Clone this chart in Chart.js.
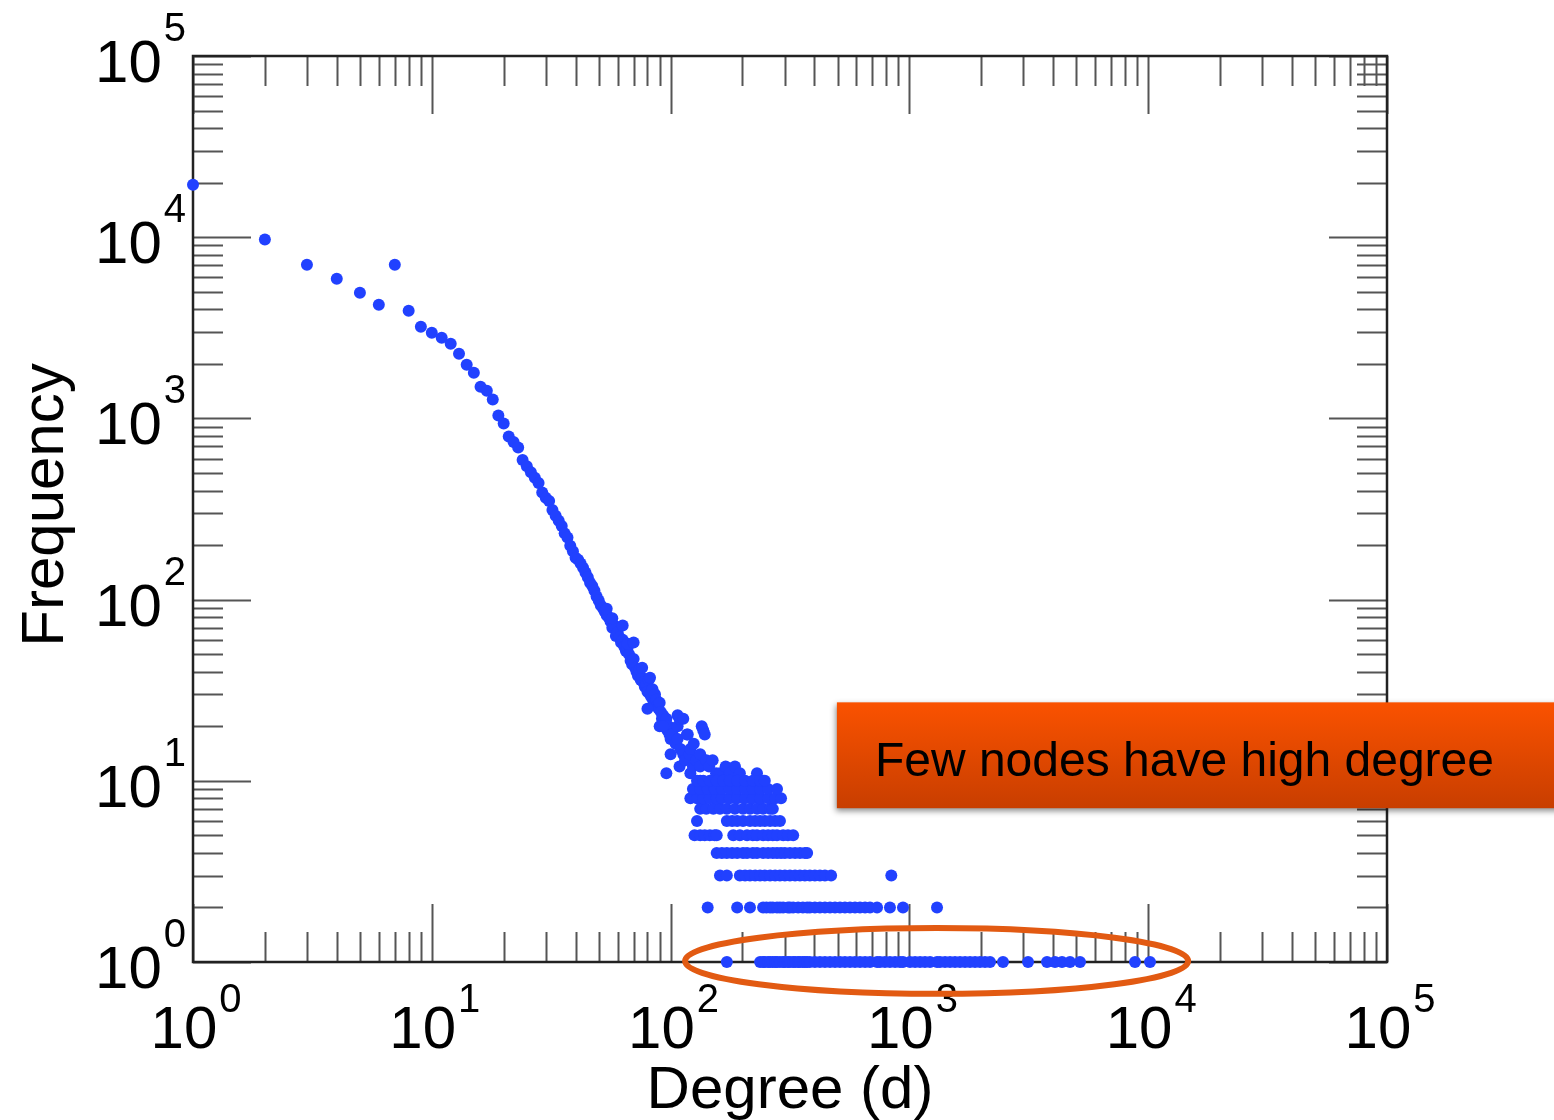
<!DOCTYPE html>
<html>
<head>
<meta charset="utf-8">
<script src="https://cdn.jsdelivr.net/npm/chart.js@4.4.1/dist/chart.umd.min.js"></script>
<style>
  body { margin: 0; background: #fff; }
  canvas { display: block; }
</style>
</head>
<body>
<canvas id="degreeChart" width="1554" height="1120"></canvas>
<script>
// main body of the distribution (degree -> number of nodes)
const mainDegree = [1, 2, 3, 4, 5, 6, 7, 8, 9, 10, 11, 12, 13, 14, 15, 16, 17, 18, 19, 20,
  21, 22, 23, 24, 25, 26, 27, 28, 29, 30, 31, 32, 33, 34, 35, 36, 37, 38, 39, 40,
  41, 42, 43, 44, 45, 46, 47, 48, 49, 50, 51, 52, 53, 54, 55, 56, 57, 58, 59, 60,
  61, 62, 63, 64, 65, 66, 67, 68, 69, 70, 71, 72, 73, 74, 75, 76, 77, 78, 79, 80,
  81, 82, 83, 84, 85, 86, 87, 88, 89, 90, 91, 92, 93, 94, 95, 96, 97, 98, 99, 100];
const mainCount = [19500, 9700, 7040, 5900, 4935, 4240, 7040, 3930, 3205, 2970, 2790, 2583, 2276, 1980, 1788, 1497, 1423, 1270, 1036, 936,
  794, 740, 690, 590, 545, 505, 470, 440, 390, 365, 350, 312, 290, 272, 255, 232, 220, 198, 185, 170,
  166, 158, 150, 141, 133, 124, 119, 112, 104, 99, 93, 90, 86, 82, 80, 76, 70, 72, 63, 66,
  62, 58, 60, 55, 52, 54, 50, 46, 44, 47, 42, 40, 38, 41, 36, 37, 35, 33, 34, 31,
  36, 30, 29, 32, 27, 30, 28, 26, 25, 27, 24, 22, 23, 21, 20, 22, 19, 20, 18, 17];

// scattered points around the bend
const cloudDegree = [54, 57, 63, 66, 70, 76, 80, 82, 90, 93, 96, 100, 102, 105, 107, 107, 107, 109, 109, 110,
  113, 113, 115, 117, 118, 120, 121, 121, 124, 125, 128, 133, 133, 133, 135, 137, 139, 141, 145, 150,
  155, 161, 165, 170, 177, 186, 195, 230, 244];
const cloudCount = [89, 79, 72, 57, 58, 42, 25, 37, 20, 20, 11, 14, 18, 16, 17, 20, 23, 22, 12, 15,
  22, 14, 13, 18, 18, 14, 15, 11, 12, 16, 13, 14, 12, 10, 20, 19, 18, 13, 12, 13,
  11, 11, 10, 12, 11, 12, 11, 11, 10];

// tail: degrees seen exactly n times
const tail10 = [129, 137, 146, 156, 166, 177, 190, 205, 221, 237, 248];
const tail9 = [124, 133, 143, 153, 164, 177, 190, 205, 221, 237, 256, 279];
const tail8 = [121, 129, 137, 146, 156, 164, 177, 190, 205, 221, 237, 256, 274, 290];
const tail7 = [133, 141, 151, 161, 172, 186, 201, 215, 230, 244, 261, 268];
const tail6 = [129, 172, 181, 190, 201, 215, 226, 237, 248, 261, 274, 287];
const tail5 = [126, 133, 139, 146, 153, 156, 183, 195, 209, 221, 230, 244, 256, 268, 279, 296, 310, 326];
const tail4 = [156, 164, 172, 181, 190, 201, 209, 221, 230, 244, 256, 268, 279, 290, 301, 316, 332, 348, 365, 373];
const tail3 = [161, 172, 195, 205, 215, 226, 237, 248, 261, 274, 287, 301, 316, 332, 348, 365, 383, 402, 422, 443, 470, 840];
const tail2 = [143, 190, 215, 244, 252, 261, 268, 279, 287, 296, 310, 316, 326, 342, 358, 373, 383, 402, 422, 443,
  465, 488, 512, 537, 564, 592, 621, 652, 684, 732, 829, 940, 1305];
const tail1 = [172, 237, 244, 248, 256, 261, 268, 274, 279, 287, 296, 301, 310, 316, 326, 332, 342, 348, 358, 365,
  373, 383, 402, 422, 443, 465, 488, 512, 537, 564, 592, 621, 652, 684, 732, 753, 790, 829, 871, 913,
  940, 1006, 1056, 1108, 1162, 1220, 1305, 1343, 1410, 1479, 1552, 1629, 1710, 1794, 1883, 1975, 2073, 2175, 2466, 3139,
  3770, 4071, 4355, 4704, 5181, 8806, 10175];
const tailRows = [[1, tail1], [2, tail2], [3, tail3], [4, tail4], [5, tail5],
  [6, tail6], [7, tail7], [8, tail8], [9, tail9], [10, tail10]];

const decades = [0, 1, 2, 3, 4, 5];
const xTitle = 'Degree (d)';
const yTitle = 'Frequency';
const noteText = 'Few nodes have high degree';

const points = [];
mainDegree.forEach((d, i) => points.push({ x: d, y: mainCount[i] }));
cloudDegree.forEach((d, i) => points.push({ x: d, y: cloudCount[i] }));
tailRows.forEach(([n, list]) => list.forEach(d => points.push({ x: d, y: n })));

const FONT = '"Liberation Sans", Arial, Helvetica, sans-serif';

function powLabel(ctx, exp, x, baseY, supY, align) {
  ctx.font = '60px ' + FONT;
  const wBase = ctx.measureText('10').width;
  ctx.font = '40px ' + FONT;
  const wSup = ctx.measureText(String(exp)).width;
  const left = align === 'right' ? x - wBase - 2 - wSup : x - (wBase + 2 + wSup) / 2;
  ctx.textAlign = 'left';
  ctx.textBaseline = 'alphabetic';
  ctx.fillStyle = '#000';
  ctx.font = '60px ' + FONT;
  ctx.fillText('10', left, baseY);
  ctx.font = '40px ' + FONT;
  ctx.fillText(String(exp), left + wBase + 2, supY);
}

const framePlugin = {
  id: 'frame',
  beforeDatasetsDraw(chart) {
    const { ctx, chartArea: a, scales: { x, y } } = chart;
    ctx.save();
    ctx.strokeStyle = '#555';
    ctx.lineWidth = 2;
    ctx.beginPath();
    decades.forEach(e => {
      for (let m = 1; m <= 9; m++) {
        if (e === 5 && m > 1) break;
        const v = m * Math.pow(10, e);
        const len = m === 1 ? 58 : 30;
        const px = Math.round(x.getPixelForValue(v)) + 0.5;
        const py = Math.round(y.getPixelForValue(v)) + 0.5;
        ctx.moveTo(px, a.bottom); ctx.lineTo(px, a.bottom - len);
        ctx.moveTo(px, a.top); ctx.lineTo(px, a.top + len);
        ctx.moveTo(a.left, py); ctx.lineTo(a.left + len, py);
        ctx.moveTo(a.right, py); ctx.lineTo(a.right - len, py);
      }
    });
    ctx.stroke();
    ctx.strokeStyle = '#222';
    ctx.lineWidth = 2.5;
    ctx.strokeRect(a.left, a.top, a.right - a.left, a.bottom - a.top);

    decades.forEach(e => {
      const py = y.getPixelForValue(Math.pow(10, e));
      powLabel(ctx, e, 186, py + 26, py - 15, 'right');
      const px = x.getPixelForValue(Math.pow(10, e));
      powLabel(ctx, e, px + 3, 1048, 1012, 'center');
    });

    ctx.fillStyle = '#000';
    ctx.font = '60px ' + FONT;
    ctx.textAlign = 'center';
    ctx.textBaseline = 'alphabetic';
    ctx.fillText(xTitle, (a.left + a.right) / 2, 1108);
    ctx.save();
    ctx.translate(63, 505);
    ctx.rotate(-Math.PI / 2);
    ctx.fillText(yTitle, 0, 0);
    ctx.restore();
    ctx.restore();
  },
  afterDraw(chart) {
    const { ctx, scales: { x, y } } = chart;
    ctx.save();
    // ring around the high-degree tail
    const x0 = x.getPixelForValue(115), x1 = x.getPixelForValue(14700);
    const y0 = y.getPixelForValue(1.54), y1 = y.getPixelForValue(0.667);
    ctx.strokeStyle = '#e25a12';
    ctx.lineWidth = 6;
    ctx.beginPath();
    ctx.ellipse((x0 + x1) / 2, (y0 + y1) / 2, (x1 - x0) / 2, (y1 - y0) / 2, 0, 0, Math.PI * 2);
    ctx.stroke();

    // callout box
    const bx = x.getPixelForValue(497);
    const by = y.getPixelForValue(27.1);
    const bb = y.getPixelForValue(7.06);
    const grad = ctx.createLinearGradient(0, by, 0, bb);
    grad.addColorStop(0, '#fa5200');
    grad.addColorStop(1, '#c83e00');
    ctx.shadowColor = 'rgba(0,0,0,0.45)';
    ctx.shadowBlur = 6;
    ctx.shadowOffsetX = -1;
    ctx.shadowOffsetY = 3;
    ctx.fillStyle = grad;
    ctx.fillRect(bx, by, chart.width - bx + 10, bb - by);
    ctx.shadowColor = 'transparent';
    ctx.fillStyle = '#000';
    ctx.font = '48px ' + FONT;
    ctx.textAlign = 'left';
    ctx.textBaseline = 'alphabetic';
    ctx.fillText(noteText, bx + 38, by + 74);
    ctx.restore();
  }
};

new Chart(document.getElementById('degreeChart'), {
  type: 'scatter',
  data: {
    datasets: [{
      data: points,
      backgroundColor: '#2141ff',
      borderWidth: 0,
      pointRadius: 6,
      pointHoverRadius: 6,
      clip: false
    }]
  },
  options: {
    responsive: false,
    animation: false,
    layout: { padding: { left: 193, top: 56, right: 167, bottom: 158 } },
    plugins: { legend: { display: false }, tooltip: { enabled: false } },
    scales: {
      x: { type: 'logarithmic', min: 1, max: 100000, display: false },
      y: { type: 'logarithmic', min: 1, max: 100000, display: false }
    }
  },
  plugins: [framePlugin]
});
</script>
</body>
</html>
